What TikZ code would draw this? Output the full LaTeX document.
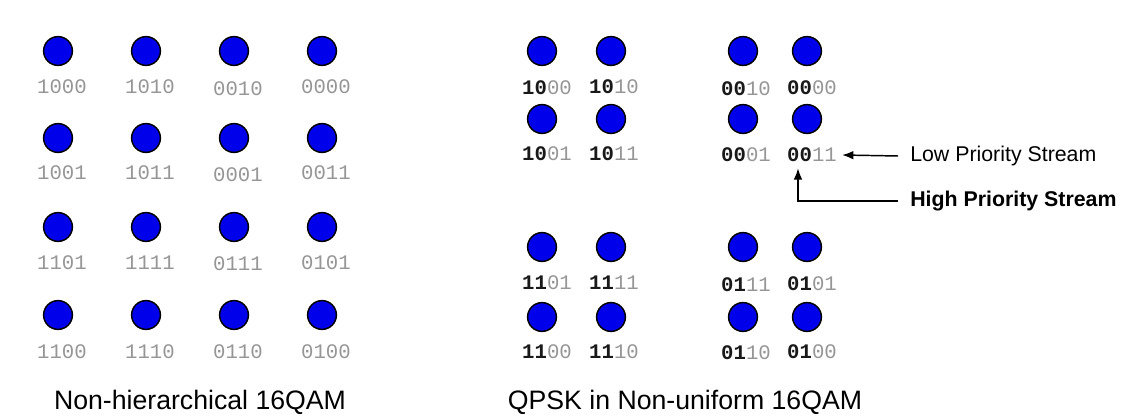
\documentclass[tikz,border=0pt]{standalone}
\usepackage{fontspec}
\setmainfont{Liberation Sans}
\newfontfamily\bitfont{Liberation Mono}
\usetikzlibrary{arrows.meta, calc, positioning}
\definecolor{dotblue}{RGB}{0,0,235}
\definecolor{lobit}{RGB}{150,150,150}
\definecolor{hibit}{RGB}{25,25,25}
\newcommand{\bits}[2]{{\bfseries\color{hibit}#1}#2}
\tikzset{
    qamdot/.style={circle, draw=black, fill=dotblue, line width=1.1pt,
        minimum size=21.6pt, inner sep=0pt},
    bitlbl/.style={inner sep=0pt, text=lobit,
        font=\bitfont\fontsize{15.5}{16}\selectfont},
    caption/.style={inner sep=0pt, font=\fontsize{20}{22}\selectfont},
    streamlbl/.style={anchor=west, inner ysep=0pt, inner xsep=9pt,
        font=\fontsize{16}{18}\selectfont},
    streamarrow/.style={line width=1.1pt, -{Latex[length=8.5pt,width=6.5pt]}}
}
\begin{document}
\begin{tikzpicture}[x=0.75pt, y=-0.75pt]
    \useasboundingbox (0,0) rectangle (1121,416);
    % non-hierarchical 16QAM
    \node[qamdot] (l1000) at (58,51) {};
    \node[qamdot] (l1010) at (146,51) {};
    \node[qamdot] (l0010) at (234,51) {};
    \node[qamdot] (l0000) at (322,51) {};
    \node[qamdot] (l1001) at (58,138) {};
    \node[qamdot] (l1011) at (146,138) {};
    \node[qamdot] (l0001) at (234,138) {};
    \node[qamdot] (l0011) at (322,138) {};
    \node[qamdot] (l1101) at (58,227) {};
    \node[qamdot] (l1111) at (146,227) {};
    \node[qamdot] (l0111) at (234,227) {};
    \node[qamdot] (l0101) at (322,227) {};
    \node[qamdot] (l1100) at (58,315) {};
    \node[qamdot] (l1110) at (146,315) {};
    \node[qamdot] (l0110) at (234,315) {};
    \node[qamdot] (l0100) at (322,315) {};
    \node[bitlbl] (t1000) at ($(l1000)+(4,36)$) {1000};
    \node[bitlbl] (t1010) at ($(l1010)+(4,36)$) {1010};
    \node[bitlbl] (t0010) at ($(l0010)+(4,38)$) {0010};
    \node[bitlbl] (t0000) at ($(l0000)+(4,36)$) {0000};
    \node[bitlbl] (t1001) at ($(l1001)+(4,35)$) {1001};
    \node[bitlbl] (t1011) at ($(l1011)+(4,35)$) {1011};
    \node[bitlbl] (t0001) at ($(l0001)+(4,37)$) {0001};
    \node[bitlbl] (t0011) at ($(l0011)+(4,35)$) {0011};
    \node[bitlbl] (t1101) at ($(l1101)+(4,36)$) {1101};
    \node[bitlbl] (t1111) at ($(l1111)+(4,36)$) {1111};
    \node[bitlbl] (t0111) at ($(l0111)+(4,37)$) {0111};
    \node[bitlbl] (t0101) at ($(l0101)+(4,36)$) {0101};
    \node[bitlbl] (t1100) at ($(l1100)+(4,37)$) {1100};
    \node[bitlbl] (t1110) at ($(l1110)+(4,37)$) {1110};
    \node[bitlbl] (t0110) at ($(l0110)+(4,37)$) {0110};
    \node[bitlbl] (t0100) at ($(l0100)+(4,37)$) {0100};
    \node[caption] (lcap) at (200,402) {Non-hierarchical 16QAM};
    % QPSK in non-uniform 16QAM
    \node[qamdot] (q1000) at (542,51) {};
    \node[qamdot] (q1010) at (611,51) {};
    \node[qamdot] (q0010) at (743,51) {};
    \node[qamdot] (q0000) at (807,51) {};
    \node[qamdot] (q1001) at (542,119) {};
    \node[qamdot] (q1011) at (611,119) {};
    \node[qamdot] (q0001) at (743,119) {};
    \node[qamdot] (q0011) at (807,119) {};
    \node[qamdot] (q1101) at (542,247) {};
    \node[qamdot] (q1111) at (611,247) {};
    \node[qamdot] (q0111) at (743,247) {};
    \node[qamdot] (q0101) at (807,247) {};
    \node[qamdot] (q1100) at (542,317) {};
    \node[qamdot] (q1110) at (611,317) {};
    \node[qamdot] (q0110) at (743,317) {};
    \node[qamdot] (q0100) at (807,317) {};
    \node[bitlbl] (s1000) at ($(q1000)+(5,37)$) {\bits{10}{00}};
    \node[bitlbl] (s1010) at ($(q1010)+(3,36)$) {\bits{10}{10}};
    \node[bitlbl] (s0010) at ($(q0010)+(3,38)$) {\bits{00}{10}};
    \node[bitlbl] (s0000) at ($(q0000)+(5,37)$) {\bits{00}{00}};
    \node[bitlbl] (s1001) at ($(q1001)+(5,35)$) {\bits{10}{01}};
    \node[bitlbl] (s1011) at ($(q1011)+(3,35)$) {\bits{10}{11}};
    \node[bitlbl] (s0001) at ($(q0001)+(3,36)$) {\bits{00}{01}};
    \node[bitlbl] (s0011) at ($(q0011)+(5,36)$) {\bits{00}{11}};
    \node[bitlbl] (s1101) at ($(q1101)+(5,36)$) {\bits{11}{01}};
    \node[bitlbl] (s1111) at ($(q1111)+(3,36)$) {\bits{11}{11}};
    \node[bitlbl] (s0111) at ($(q0111)+(3,38)$) {\bits{01}{11}};
    \node[bitlbl] (s0101) at ($(q0101)+(5,37)$) {\bits{01}{01}};
    \node[bitlbl] (s1100) at ($(q1100)+(5,35)$) {\bits{11}{00}};
    \node[bitlbl] (s1110) at ($(q1110)+(3,35)$) {\bits{11}{10}};
    \node[bitlbl] (s0110) at ($(q0110)+(3,36)$) {\bits{01}{10}};
    \node[bitlbl] (s0100) at ($(q0100)+(5,35)$) {\bits{01}{00}};
    \node[caption] (rcap) at (685,402) {QPSK in Non-uniform 16QAM};
    % streams
    \node[streamlbl] (low) at (898,156) {Low Priority Stream};
    \node[streamlbl, font=\bfseries\fontsize{16}{18}\selectfont] (high) at (898,201) {High Priority Stream};
    \coordinate (hp) at ($(s0011.south)+(-14,6)$);
    \draw[streamarrow] (low.west) -- ($(s0011.east)+(5,0)$);
    \draw[streamarrow] (high.west) -| (hp);
\end{tikzpicture}
\end{document}
